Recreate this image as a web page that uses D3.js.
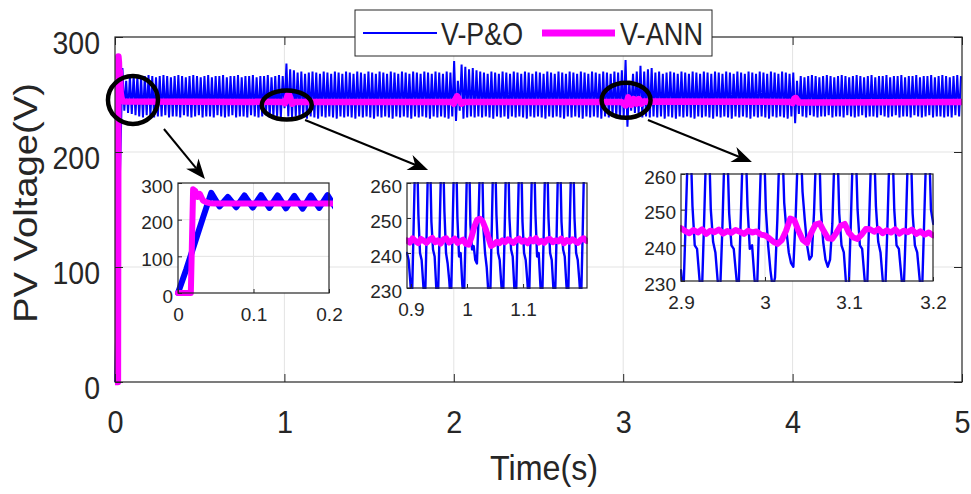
<!DOCTYPE html>
<html>
<head>
<meta charset="utf-8">
<script src="https://cdn.jsdelivr.net/npm/d3@7"></script>
<style>
body { margin: 0; background: #fff; }
svg { display: block; font-family: "Liberation Sans", Arial, sans-serif; }
</style>
</head>
<body>
<svg width="971" height="494"></svg>
<script>
// main axes
var xTicks = [0, 1, 2, 3, 4, 5];
var xTickLabels = ['0', '1', '2', '3', '4', '5'];
var yTicks = [0, 100, 200, 300];
var yTickLabels = ['0', '100', '200', '300'];

// P&O voltage, one sample every pnoMainStep seconds (peaks / troughs of the ripple)
var pnoMainStep = 0.011;
var pnoMainV = [
  0,65,135,205,273,236,262,234,266,233,267,232,
  266,231,265,230,266,232,267,231,266,230,265,231,266,231,267,232,266,230,265,231,
  266,231,267,230,266,232,265,231,266,230,267,231,266,232,265,230,266,231,267,231,
  265,230,266,232,266,231,267,230,265,231,266,232,266,230,267,231,265,231,266,230,
  266,232,267,231,265,230,266,231,266,232,267,230,265,231,266,231,267,230,266,238,
  277,231,272,230,271,231,
  269,230,270,231,268,229,269,231,270,230,269,229,268,231,270,230,269,231,268,230,
  270,229,269,231,268,230,270,231,269,230,268,229,270,231,269,230,268,231,270,230,
  269,229,268,231,270,230,269,231,268,230,270,229,269,231,268,230,270,231,269,230,
  268,229,270,231,269,230,268,231,270,230,269,229,268,231,270,230,269,231,268,230,
  270,229,269,231,
  279,227,262,236,276,229,274,230,272,231,273,230,271,231,270,230,
  269,231,268,230,270,229,269,231,268,230,270,231,269,229,268,231,270,230,269,231,
  268,230,270,229,269,231,268,230,270,231,269,230,268,229,270,231,269,230,268,231,
  270,230,269,229,268,231,270,230,269,231,268,230,270,229,269,231,268,230,270,231,
  269,230,268,229,270,231,269,230,268,231,270,230,269,229,
  271,231,280,222,262,236,268,234,270,233,275,230,270,231,272,230,273,231,
  269,230,270,231,268,229,269,231,270,230,269,229,268,231,270,230,269,231,268,230,
  270,229,269,231,268,230,270,231,269,230,268,229,270,231,269,230,268,231,270,230,
  269,229,268,231,270,230,269,231,268,230,270,229,269,231,268,230,270,231,269,230,
  268,229,270,231,269,230,268,231,270,230,269,229,268,231,
  269,225,262,233,
  266,231,265,230,266,232,267,231,266,230,265,231,266,231,267,232,266,230,265,231,
  266,231,267,230,266,232,265,231,266,230,267,231,266,232,265,230,266,231,267,231,
  265,230,266,232,266,231,267,230,265,231,266,232,266,230,267,231,265,231,266,230,
  266,232,267,231,265,230,266,231,266,232,267,230,265,231,266,231,267,230,266,231,
  265,230,266,232,267,231,266
];

// ANN voltage
var annMainT = [0, 0.017, 0.020, 0.023, 0.026, 0.029, 0.033, 0.037, 0.042, 0.05,
  0.99, 1.003, 1.01, 1.02, 1.03, 1.038, 1.045, 1.06,
  1.99, 2.0, 2.01, 2.02, 2.03, 2.045, 2.06,
  2.99, 3.015, 3.03, 3.048, 3.062, 3.078, 3.092, 3.107, 3.12,
  3.99, 4.0, 4.01, 4.02, 4.035, 5];
var annMainV = [0, 0, 283, 278, 262, 270, 252, 248, 245, 244,
  243.5, 242.5, 245, 249.5, 249, 244.5, 242, 243.5,
  243.5, 242, 246, 248.5, 246, 242, 243.5,
  243.5, 240.5, 247.5, 241, 246, 242, 246, 242, 244,
  243.5, 242.5, 246.5, 247, 243, 243.5];

// zoom 0.9 - 1.2 s
var zoomAStart = 0.893;
var pnoZoomAStep = 0.0029;
var pnoZoomAV = [
  240,238,232,
  225,246,267,274,251,240,238,231,
  224,244,268,272,249,241,239,230,
  226,245,266,273,252,240,237,232,
  225,246,268,274,250,239,240,231,
  226,245,267,273,248,241,242,238,
  237,250,268,272,247,240,236,229,
  224,244,267,273,251,240,238,231,
  225,245,268,274,250,241,239,230,
  226,246,267,272,249,240,238,232,
  225,245,268,273,251,239,240,231,
  224,244,266,274,250,240,238,230,
  226,245,268,272,249,241,239,231,
  225,246,267,273,250,240,238,232,
  225,245,268,273
];
var annZoomAStep = 0.005;
var annZoomAV = [
  243.6,243.0,244.2,243.4,242.8,244.0,243.5,242.9,243.8,244.3,
  243.1,243.6,242.7,243.9,244.2,243.0,243.5,244.1,242.9,243.4,
  243.8,242.6,242.4,244.5,247.5,249.5,249.8,249.0,247.0,244.5,
  242.0,242.5,243.2,242.8,243.6,243.1,243.9,243.4,242.9,243.7,
  244.1,243.2,243.6,242.8,243.9,243.3,244.2,243.0,243.5,242.9,
  243.8,244.0,243.1,243.6,243.3,244.1,242.8,243.7,243.2,243.9,
  243.4,242.9,243.8,244.2,243.5
];

// zoom 2.9 - 3.2 s
var zoomBStart = 2.9;
var pnoZoomBStep = 0.00273;
var pnoZoomBV = [
  233,
  225,246,267,273,251,240,239,231,
  224,245,268,274,250,241,238,230,
  226,244,267,272,249,240,239,232,
  225,246,268,273,251,239,240,231,
  224,245,266,274,250,240,233,228,
  231,247,268,273,252,244,238,235,
  234,248,267,272,255,247,240,236,
  237,249,268,274,250,241,236,234,
  236,246,267,273,249,240,238,229,
  225,245,268,272,250,240,239,231,
  224,246,267,273,251,241,238,230,
  226,245,268,274,250,240,239,232,
  225,244,267,273,249,240,238,231,
  224,246,268,273,250,246
];
var annZoomBStep = 0.005;
var annZoomBV = [
  244.8,244.0,243.4,244.3,243.6,244.5,243.2,244.1,243.7,244.4,
  243.3,244.0,243.5,244.3,243.8,243.2,244.1,243.6,243.9,243.0,
  242.8,242.0,241.0,240.4,241.5,244.0,247.5,247.0,244.0,241.5,
  240.6,243.5,245.8,246.2,244.0,242.0,241.8,243.5,245.5,246.0,
  243.5,242.2,241.8,243.0,244.6,244.5,243.8,244.6,243.4,244.2,
  243.6,244.5,243.3,244.1,243.7,244.4,243.2,243.9,243.0,243.6,
  242.8
];

// inset ticks
var inset1XTicks = [0, 0.1, 0.2];
var inset1XLabels = ['0', '0.1', '0.2'];
var inset1YTicks = [0, 100, 200, 300];
var inset1YLabels = ['0', '100', '200', '300'];
var inset2XTicks = [0.9, 1, 1.1];
var inset2XLabels = ['0.9', '1', '1.1'];
var inset3XTicks = [2.9, 3, 3.1, 3.2];
var inset3XLabels = ['2.9', '3', '3.1', '3.2'];
var zoomYTicks = [230, 240, 250, 260];
var zoomYLabels = ['230', '240', '250', '260'];

// annotation marks in data units: [t, v]
var circleCentres = [[0.106, 245.2], [1.014, 240.9], [3.017, 245]];
var circleRadii = [[25, 24], [25, 14.5], [24.5, 17.5]];
var arrowFrom = [[0.289, 220], [1.122, 227.8], [3.146, 227.8]];
var arrowTo = [[0.531, 176.5], [1.848, 184.3], [3.760, 191.3]];

var seriesNames = ['V-P&O', 'V-ANN'];
var blue = '#0000ff';
var magenta = '#ff00ff';
var ink = '#262626';
var gridColor = '#e3e3e3';

var svg = d3.select('svg');
svg.append('rect').attr('width', 971).attr('height', 494).attr('fill', '#fff');

var x = d3.scaleLinear().domain([0, 5]).range([115, 962]);
var y = d3.scaleLinear().domain([0, 300]).range([382, 37]);

var pnoMain = pnoMainV.map(function(v, i) { return [i * pnoMainStep, v]; });
var annMain = annMainT.map(function(t, i) { return [t, annMainV[i]]; });

// main grid
var grid = svg.append('g').attr('stroke', gridColor).attr('stroke-width', 1);
grid.selectAll('.gx').data(xTicks.slice(1, -1)).enter().append('line')
  .attr('x1', function(d) { return x(d); }).attr('x2', function(d) { return x(d); })
  .attr('y1', y(300)).attr('y2', y(0));
grid.selectAll('.gy').data(yTicks.slice(1, -1)).enter().append('line')
  .attr('y1', function(d) { return y(d); }).attr('y2', function(d) { return y(d); })
  .attr('x1', x(0)).attr('x2', x(5));

var mainLine = d3.line().x(function(d) { return x(d[0]); }).y(function(d) { return y(d[1]); });

svg.append('path').datum(pnoMain).attr('d', mainLine)
  .attr('fill', 'none').attr('stroke', blue).attr('stroke-width', 2);
svg.append('path').datum(annMain).attr('d', mainLine)
  .attr('fill', 'none').attr('stroke', magenta).attr('stroke-width', 6.5)
  .attr('stroke-linejoin', 'round');

// main axes, MATLAB style inward ticks on all sides
function styleAxis(g, size) {
  g.attr('color', ink).attr('font-size', size).attr('font-family', '"Liberation Sans", Arial, sans-serif');
  g.select('.domain').remove();
}
var axB = svg.append('g').attr('transform', 'translate(0,382)')
  .call(d3.axisBottom(x).tickValues(xTicks).tickSize(-8).tickSizeOuter(0).tickPadding(28)
    .tickFormat(function(d, i) { return xTickLabels[i]; }));
styleAxis(axB, 32);
var axL = svg.append('g').attr('transform', 'translate(115,0)')
  .call(d3.axisLeft(y).tickValues(yTicks).tickSize(-8).tickSizeOuter(0).tickPadding(15)
    .tickFormat(function(d, i) { return yTickLabels[i]; }));
styleAxis(axL, 32);
axL.selectAll('text').attr('dy', 16);
svg.append('g').attr('transform', 'translate(0,37)')
  .call(d3.axisTop(x).tickValues(xTicks).tickSize(-8).tickSizeOuter(0).tickFormat(''))
  .call(function(g) { styleAxis(g, 10); });
svg.append('g').attr('transform', 'translate(962,0)')
  .call(d3.axisRight(y).tickValues(yTicks).tickSize(-8).tickSizeOuter(0).tickFormat(''))
  .call(function(g) { styleAxis(g, 10); });
axB.selectAll('text').classed('squeeze', true).attr('data-f', 0.9);
axL.selectAll('text').classed('squeeze', true).attr('data-f', 0.89);

svg.append('rect').attr('x', x(0)).attr('y', y(300))
  .attr('width', x(5) - x(0)).attr('height', y(0) - y(300))
  .attr('fill', 'none').attr('stroke', ink).attr('stroke-width', 1.2);

// insets
function drawInset(cfg) {
  var ix = d3.scaleLinear().domain(cfg.xDomain).range([cfg.left, cfg.right]);
  var iy = d3.scaleLinear().domain(cfg.yDomain).range([cfg.bottom, cfg.top]);
  var g = svg.append('g');
  g.append('rect').attr('x', cfg.left).attr('y', cfg.top)
    .attr('width', cfg.right - cfg.left).attr('height', cfg.bottom - cfg.top).attr('fill', '#fff');
  var gg = g.append('g').attr('stroke', gridColor).attr('stroke-width', 1);
  gg.selectAll('.vx').data(cfg.xTicks.filter(function(d) { return ix(d) > cfg.left + 2 && ix(d) < cfg.right - 2; }))
    .enter().append('line')
    .attr('x1', function(d) { return ix(d); }).attr('x2', function(d) { return ix(d); })
    .attr('y1', cfg.top).attr('y2', cfg.bottom);
  gg.selectAll('.hy').data(cfg.yTicks.filter(function(d) { return iy(d) > cfg.top + 2 && iy(d) < cfg.bottom - 2; }))
    .enter().append('line')
    .attr('y1', function(d) { return iy(d); }).attr('y2', function(d) { return iy(d); })
    .attr('x1', cfg.left).attr('x2', cfg.right);

  var clipId = 'clip-' + cfg.name;
  g.append('clipPath').attr('id', clipId).append('rect')
    .attr('x', cfg.left - cfg.pad).attr('y', cfg.top - cfg.pad)
    .attr('width', cfg.right - cfg.left + 2 * cfg.pad).attr('height', cfg.bottom - cfg.top + 2 * cfg.pad);
  var line = d3.line().x(function(d) { return ix(d[0]); }).y(function(d) { return iy(d[1]); });
  var lines = g.append('g').attr('clip-path', 'url(#' + clipId + ')');
  lines.append('path').datum(cfg.pno).attr('d', line)
    .attr('fill', 'none').attr('stroke', blue).attr('stroke-width', cfg.pnoWidth)
    .attr('stroke-linejoin', 'round').attr('stroke-linecap', 'round');
  lines.append('path').datum(cfg.ann).attr('d', line)
    .attr('fill', 'none').attr('stroke', magenta).attr('stroke-width', 6)
    .attr('stroke-linejoin', 'round').attr('stroke-linecap', 'round');

  var ab = g.append('g').attr('transform', 'translate(0,' + cfg.bottom + ')')
    .call(d3.axisBottom(ix).tickValues(cfg.xTicks).tickSize(-4).tickSizeOuter(0).tickPadding(15)
      .tickFormat(function(d, i) { return cfg.xLabels[i]; }));
  styleAxis(ab, 19);
  var al = g.append('g').attr('transform', 'translate(' + cfg.left + ',0)')
    .call(d3.axisLeft(iy).tickValues(cfg.yTicks).tickSize(-4).tickSizeOuter(0).tickPadding(5)
      .tickFormat(function(d, i) { return cfg.yLabels[i]; }));
  styleAxis(al, 19);
  al.selectAll('text').attr('dy', 9);
  g.append('rect').attr('x', cfg.left).attr('y', cfg.top)
    .attr('width', cfg.right - cfg.left).attr('height', cfg.bottom - cfg.top)
    .attr('fill', 'none').attr('stroke', ink).attr('stroke-width', 1.2);
}

drawInset({
  name: 'a', left: 178, right: 329, top: 183, bottom: 293, pad: 4,
  xDomain: [0, 0.2], yDomain: [0, 300],
  xTicks: inset1XTicks, xLabels: inset1XLabels, yTicks: inset1YTicks, yLabels: inset1YLabels,
  pno: pnoMain.filter(function(d) { return d[0] <= 0.23; }),
  ann: annMain.filter(function(d) { return d[0] <= 1; }),
  pnoWidth: 6
});
drawInset({
  name: 'b', left: 407, right: 587, top: 183, bottom: 288, pad: 1,
  xDomain: [0.893, 1.214], yDomain: [230, 260],
  xTicks: inset2XTicks, xLabels: inset2XLabels, yTicks: zoomYTicks, yLabels: zoomYLabels,
  pno: pnoZoomAV.map(function(v, i) { return [zoomAStart + i * pnoZoomAStep, v]; }),
  ann: annZoomAV.map(function(v, i) { return [zoomAStart + i * annZoomAStep, v]; }),
  pnoWidth: 2.4
});
drawInset({
  name: 'c', left: 681, right: 933, top: 174, bottom: 281, pad: 1,
  xDomain: [2.9, 3.2], yDomain: [230, 260],
  xTicks: inset3XTicks, xLabels: inset3XLabels, yTicks: zoomYTicks, yLabels: zoomYLabels,
  pno: pnoZoomBV.map(function(v, i) { return [zoomBStart + i * pnoZoomBStep, v]; }),
  ann: annZoomBV.map(function(v, i) { return [zoomBStart + i * annZoomBStep, v]; }),
  pnoWidth: 2.4
});

// ellipses and arrows
svg.append('g').selectAll('ellipse').data(circleCentres).enter().append('ellipse')
  .attr('cx', function(d) { return x(d[0]); })
  .attr('cy', function(d) { return y(d[1]); })
  .attr('rx', function(d, i) { return circleRadii[i][0]; })
  .attr('ry', function(d, i) { return circleRadii[i][1]; })
  .attr('fill', 'none').attr('stroke', '#000').attr('stroke-width', 4.5);

arrowFrom.forEach(function(a, i) {
  var x0 = x(a[0]), y0 = y(a[1]), x1 = x(arrowTo[i][0]), y1 = y(arrowTo[i][1]);
  var ang = Math.atan2(y1 - y0, x1 - x0);
  var len = 20, half = 8, notch = 6;
  var bx = x1 - len * Math.cos(ang), by = y1 - len * Math.sin(ang);
  var nx = x1 - (len - notch) * Math.cos(ang), ny = y1 - (len - notch) * Math.sin(ang);
  var px = -Math.sin(ang), py = Math.cos(ang);
  svg.append('line').attr('x1', x0).attr('y1', y0).attr('x2', nx).attr('y2', ny)
    .attr('stroke', '#000').attr('stroke-width', 2);
  svg.append('path')
    .attr('d', 'M' + x1 + ',' + y1 +
      'L' + (bx + px * half) + ',' + (by + py * half) +
      'L' + nx + ',' + ny +
      'L' + (bx - px * half) + ',' + (by - py * half) + 'Z')
    .attr('fill', '#000');
});

// legend
var legend = svg.append('g');
legend.append('rect').attr('x', 355).attr('y', 10).attr('width', 357).attr('height', 46)
  .attr('fill', '#fff').attr('stroke', ink).attr('stroke-width', 1);
legend.append('line').attr('x1', 363).attr('x2', 437).attr('y1', 33).attr('y2', 33)
  .attr('stroke', blue).attr('stroke-width', 2);
legend.append('text').attr('x', 441).attr('y', 45).attr('font-size', 32).attr('fill', ink)
  .attr('textLength', 82).attr('lengthAdjust', 'spacingAndGlyphs').text(seriesNames[0]);
legend.append('line').attr('x1', 542).attr('x2', 615).attr('y1', 33).attr('y2', 33)
  .attr('stroke', magenta).attr('stroke-width', 7);
legend.append('text').attr('x', 620).attr('y', 45).attr('font-size', 32).attr('fill', ink)
  .attr('textLength', 83).attr('lengthAdjust', 'spacingAndGlyphs').text(seriesNames[1]);

// axis titles
svg.append('text').attr('x', 544).attr('y', 480).attr('text-anchor', 'middle')
  .attr('font-size', 35).attr('fill', ink)
  .attr('textLength', 108).attr('lengthAdjust', 'spacingAndGlyphs').text('Time(s)');
svg.append('text').attr('transform', 'translate(37,203) rotate(-90)').attr('text-anchor', 'middle')
  .attr('font-size', 33).attr('fill', ink)
  .attr('textLength', 240).attr('lengthAdjust', 'spacingAndGlyphs').text('PV Voltage(V)');

svg.selectAll('.squeeze').each(function() {
  var f = +this.getAttribute('data-f');
  d3.select(this).attr('textLength', this.getComputedTextLength() * f).attr('lengthAdjust', 'spacingAndGlyphs');
});
</script>
</body>
</html>
